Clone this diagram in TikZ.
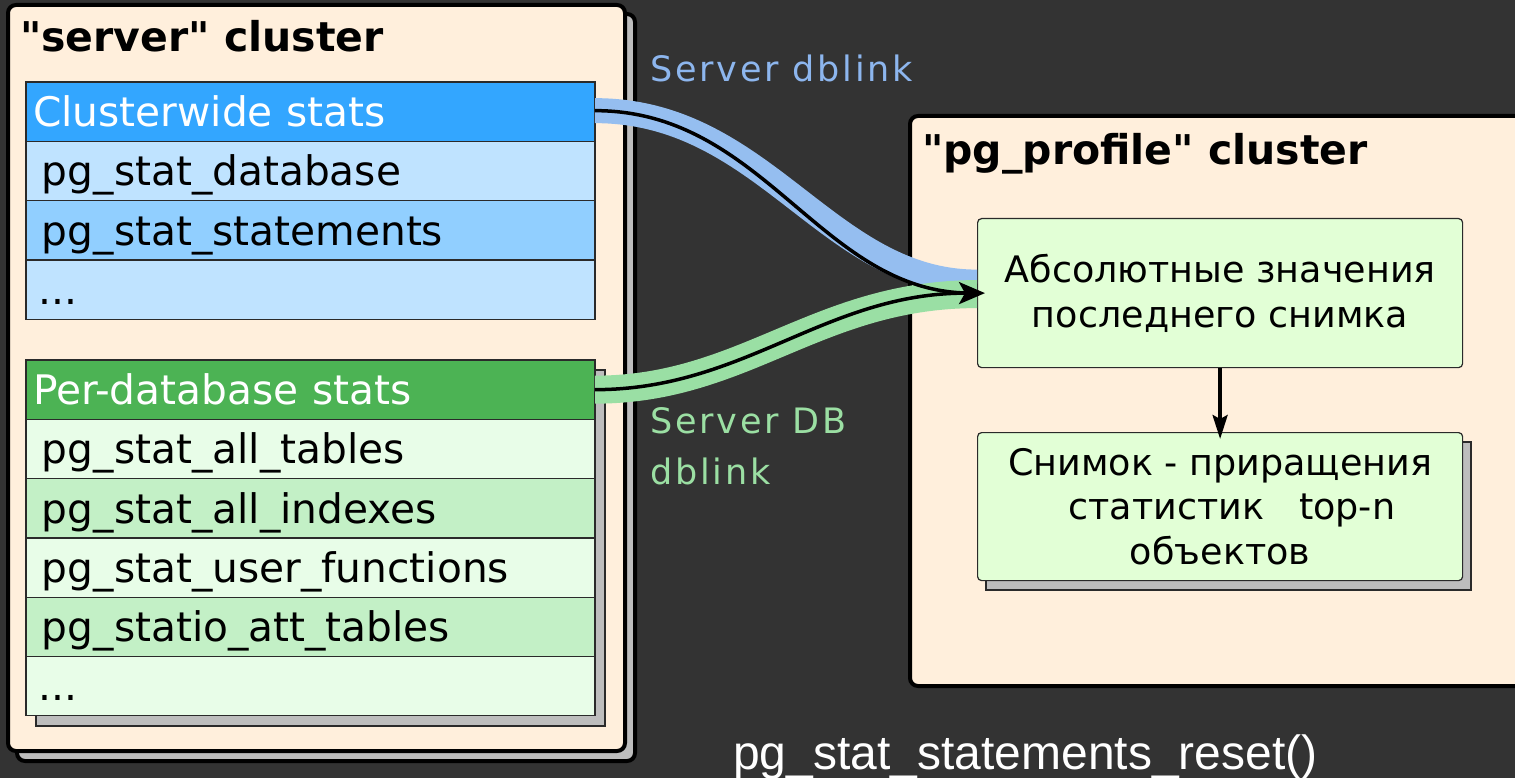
\documentclass[tikz,border=0pt]{standalone}
\usepackage{fontspec}
\setmainfont{DejaVu Sans}
\newfontfamily\djv{DejaVu Sans}
\newfontfamily\lsans{Liberation Sans}
\newfontfamily\spacedfont{DejaVu Sans}[LetterSpace=8]
\usetikzlibrary{arrows.meta}
\definecolor{bg}{HTML}{333333}
\definecolor{cream}{HTML}{FFEFDC}
\definecolor{shadowgray}{HTML}{BDBDBD}
\definecolor{bluehead}{HTML}{33A6FF}
\definecolor{bluelight}{HTML}{BFE3FF}
\definecolor{bluemid}{HTML}{91CFFF}
\definecolor{greenhead}{HTML}{4CB354}
\definecolor{greenlight}{HTML}{E8FDE8}
\definecolor{greenmid}{HTML}{C3F0C6}
\definecolor{boxgreen}{HTML}{E2FFD6}
\definecolor{bandblue}{HTML}{95BEF0}
\definecolor{bandgreen}{HTML}{9ADFA4}
\definecolor{labelblue}{HTML}{8DB6EE}
\definecolor{labelgreen}{HTML}{9BDFA3}
\definecolor{rowline}{HTML}{2A2A2A}
\tikzset{
  cluster/.style={draw=black, line width=4pt, fill=cream, rounded corners=8pt},
  clustershadow/.style={draw=black, line width=4pt, fill=shadowgray, rounded corners=8pt},
  tabshadow/.style={draw=rowline, line width=1.2pt, fill=shadowgray},
  row/.style={draw=rowline, line width=1.2pt, minimum width=569pt, minimum height=59.3pt,
    anchor=north west, inner xsep=0pt, inner ysep=0pt, outer sep=0pt, text width=569pt, align=left,
    text height=29.5pt, text depth=0pt, font=\fontsize{40.7}{48}\selectfont,
    execute at begin node={\hspace*{#1}}},
  row/.default=16pt,
  headrow/.style={row=7pt, text=white},
  title/.style={anchor=base west, inner sep=0pt, font=\djv\bfseries\fontsize{41}{44}\selectfont},
  box/.style={draw=rowline, line width=1.2pt, fill=boxgreen, rounded corners=4pt,
    minimum width=485pt, anchor=north west, align=center,
    font=\fontsize{36.5}{44.5}\selectfont},
  boxshadow/.style={draw=rowline, line width=1.2pt, fill=shadowgray},
  bandb/.style={line width=25pt, draw=bandblue},
  bandg/.style={line width=28pt, draw=bandgreen},
  link/.style={draw=black, line width=3.5pt},
  lbl/.style={anchor=base west, inner sep=0pt, font=\spacedfont\fontsize{35}{50}\selectfont},
}
\begin{document}
\begin{tikzpicture}[x=1pt,y=-1pt]
\useasboundingbox[fill=bg] (0,0) rectangle (1515,778);

% server cluster
\draw[clustershadow] (17,14) rectangle (635,761);
\draw[cluster] (8,5) rectangle (625,751);
\node[title] (stitle) at (20,52) {"server" cluster};

% clusterwide table
\node[headrow, fill=bluehead] (c0) at (26,82) {Clusterwide stats};
\node[row, fill=bluelight] (c1) at (c0.south west) {pg\_stat\_database};
\node[row, fill=bluemid] (c2) at (c1.south west) {pg\_stat\_statements};
\node[row=13pt, fill=bluelight] (c3) at (c2.south west) {...};

% per-database table
\draw[tabshadow] (36,370) rectangle (605,726);
\node[headrow, fill=greenhead] (g0) at (26,360) {Per-database stats};
\node[row, fill=greenlight] (g1) at (g0.south west) {pg\_stat\_all\_tables};
\node[row, fill=greenmid] (g2) at (g1.south west) {pg\_stat\_all\_indexes};
\node[row, fill=greenlight] (g3) at (g2.south west) {pg\_stat\_user\_functions};
\node[row, fill=greenmid] (g4) at (g3.south west) {pg\_statio\_att\_tables};
\node[row=13pt, fill=greenlight] (g5) at (g4.south west) {...};

% pg_profile cluster
\draw[cluster] (910,116) rectangle (1540,686);
\node[title] (ptitle) at (922,165) {"pg\_profile" cluster};

\node[box, minimum height=149pt] (b1) at (977,218) {Абсолютные значения\\последнего снимка};
\draw[boxshadow] (986,442) rectangle (1471,590);
\node[box, minimum height=148pt] (b2) at (977,432) {Снимок - приращения\\\ \ статистик\ \ \ top-n\\объектов};

\draw[link, -{Stealth[length=24pt,width=15pt,inset=4pt]}, shorten >=-7pt] (b1.south) -- (b2.north);

% dblink connectors
\coordinate (tip) at ([xshift=8pt]b1.west);
\coordinate (bend) at ([yshift=11pt]b1.west);
\coordinate (gend) at ([yshift=-1pt]b1.west);
\draw[bandb] ([yshift=1pt]c0.east) .. controls +(170,0) and +(-150,0) .. (bend);
\draw[bandg] (g0.east) .. controls +(150,0) and +(-160,0) .. (gend);
\draw[link] ([yshift=1pt]c0.east) .. controls +(170,0) and +(-150,0) .. ([xshift=-14pt]tip);
\draw[link, -{Stealth[length=26pt,width=22pt,inset=6pt]}] (g0.east) .. controls +(150,0) and +(-160,0) .. (tip);

\node[lbl, text=labelblue] (lb1) at (650,82) {Server dblink};
\node[lbl, text=labelgreen] (lb2) at (650,433) {Server DB};
\node[lbl, text=labelgreen] (lb3) at (650,484) {dblink};

\node[anchor=base west, inner sep=0pt, text=white, font=\lsans\fontsize{48}{56}\selectfont] (reset) at (733,769) {pg\_stat\_statements\_reset()};
\end{tikzpicture}
\end{document}
